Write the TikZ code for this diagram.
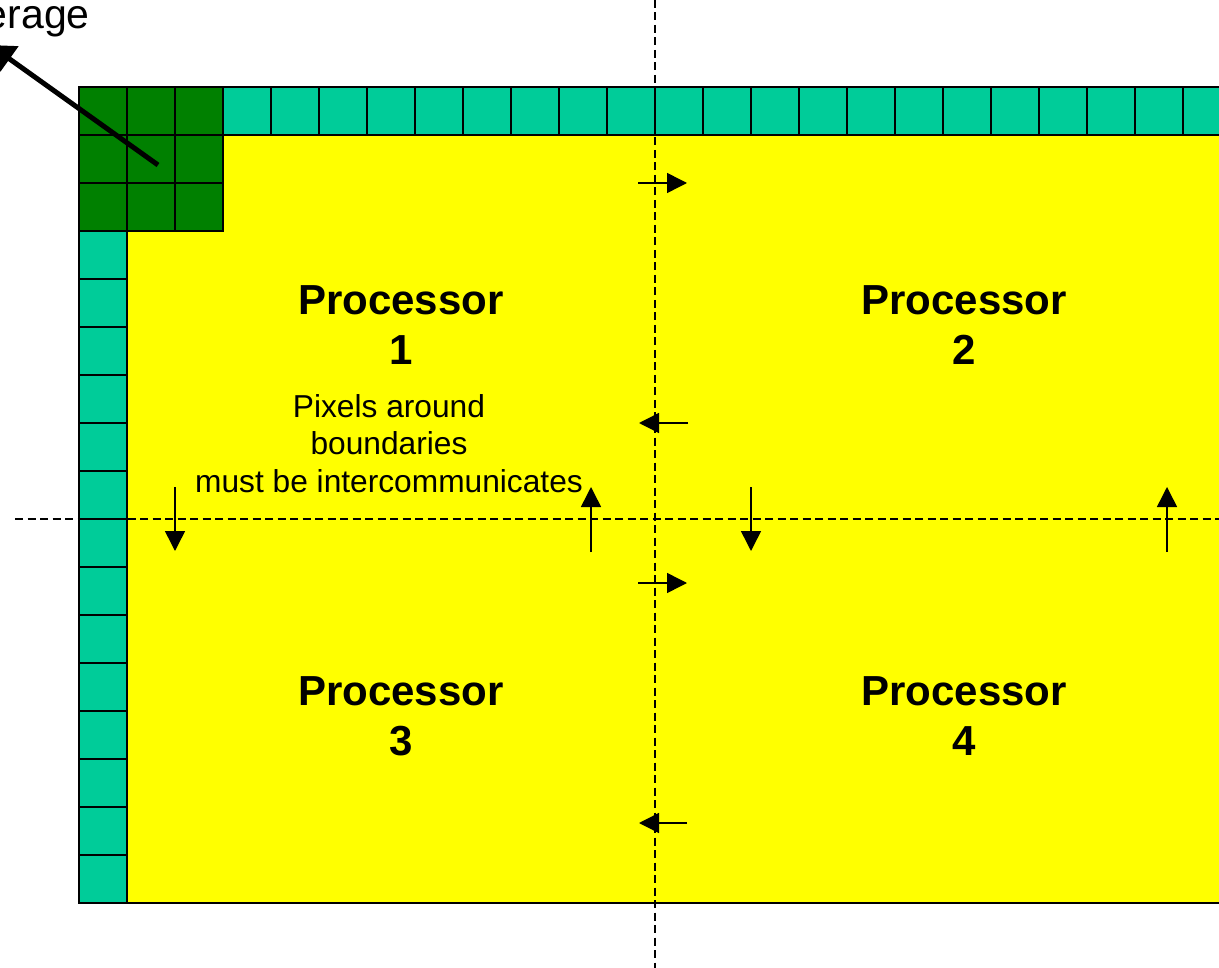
\documentclass[tikz,border=0pt]{standalone}
\usepackage{fontspec}
\setmainfont{Liberation Sans}
\usetikzlibrary{arrows.meta}
\definecolor{tealc}{RGB}{0,204,153}
\definecolor{dgreen}{RGB}{0,128,0}
\definecolor{yel}{RGB}{255,255,0}
\begin{document}
\begin{tikzpicture}[x=1pt,y=-1pt,
 cell/.style={draw=black,line width=1.8pt},
 guide/.style={draw=black,line width=1.3pt,dash pattern=on 8pt off 4.5pt},
 arr/.style={draw=black,line width=1.5pt,-{Triangle[length=20pt,width=20pt]}},
 bigarr/.style={draw=black,line width=5pt,-{Triangle[length=24pt,width=30pt]}},
 proc/.style={font=\fontsize{42}{50}\selectfont\bfseries,align=center,anchor=base},
 note/.style={font=\fontsize{31.7}{37.5}\selectfont,align=center,anchor=base},
]
\useasboundingbox (0,0) rectangle (1219,968);
% yellow area
\filldraw[fill=yel,draw=black,line width=1.5pt] (79,87) rectangle (1260,903);
% dark green 3x3 block
\foreach \i in {0,...,2}
  \foreach \j in {0,...,2}
    \filldraw[cell,fill=dgreen] ({79+48*\i},{87+48*\j}) rectangle +(48,48);
% top row
\foreach \i in {0,...,21}
  \filldraw[cell,fill=tealc] ({223+48*\i},87) rectangle +(48,48);
% left column
\foreach \j in {0,...,13}
  \filldraw[cell,fill=tealc] (79,{231+48*\j}) rectangle +(48,48);
% dashed partition lines
\coordinate (vt) at (655,0);
\coordinate (vb) at (655,968);
\coordinate (hl) at (15,519);
\coordinate (hr) at (1219,519);
\draw[guide] (vt) -- (vb);
\draw[guide] (hl) -- (hr);
% exchange arrows
\coordinate (a1s) at (638,183); \coordinate (a1e) at (687,183);
\coordinate (a2s) at (688,423); \coordinate (a2e) at (639,423);
\coordinate (a3s) at (591,552); \coordinate (a3e) at (591,487);
\coordinate (a4s) at (751,487); \coordinate (a4e) at (751,551);
\coordinate (a5s) at (638,583); \coordinate (a5e) at (687,583);
\coordinate (a6s) at (175,487); \coordinate (a6e) at (175,551);
\coordinate (a7s) at (1167,552); \coordinate (a7e) at (1167,487);
\coordinate (a8s) at (687,823); \coordinate (a8e) at (639,823);
\draw[arr] (a1s) -- (a1e);
\draw[arr] (a2s) -- (a2e);
\draw[arr] (a3s) -- (a3e);
\draw[arr] (a4s) -- (a4e);
\draw[arr] (a5s) -- (a5e);
\draw[arr] (a6s) -- (a6e);
\draw[arr] (a7s) -- (a7e);
\draw[arr] (a8s) -- (a8e);
% big arrow
\coordinate (bs) at (158,165);
\coordinate (be) at (-10,45);
\draw[bigarr] (bs) -- (be);
% texts (base anchor = baseline of the last line)
\node[proc] (p1) at (401,365) {Processor\\1};
\node[proc] (p2) at (964,365) {Processor\\2};
\node[proc] (p3) at (401,755) {Processor\\3};
\node[proc] (p4) at (964,755) {Processor\\4};
\node[note] (n1) at (389,492) {Pixels around\\boundaries\\must be intercommunicates};
\node[font=\fontsize{41}{46}\selectfont,anchor=base east,inner sep=0pt] (avg) at (90,28.5) {erage};
\end{tikzpicture}
\end{document}
